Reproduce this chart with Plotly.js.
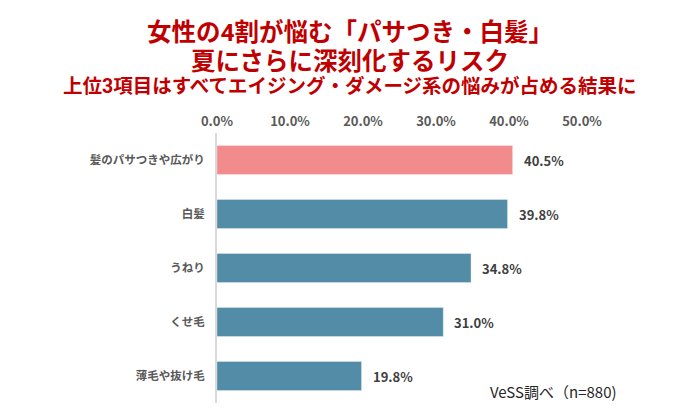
<!DOCTYPE html>
<html><head><meta charset="utf-8">
<script src="https://cdn.plot.ly/plotly-3.0.1.min.js"></script>
<style>body{margin:0;background:#fff}#chart{width:700px;height:420px}</style>
</head><body><div id="chart"></div>
<script>
const categories = ['髪のパサつきや広がり','白髪','うねり','くせ毛','薄毛や抜け毛'];
const values = [40.5, 39.8, 34.8, 31.0, 19.8];
const barColors = ['#F28B8C','#538CA7','#538CA7','#538CA7','#538CA7'];
const tickValues = [0,10,20,30,40,50];
const tickLabels = ['0.0%','10.0%','20.0%','30.0%','40.0%','50.0%'];
const titleLines = ['女性の4割が悩む「パサつき・白髪」','夏にさらに深刻化するリスク','上位3項目はすべてエイジング・ダメージ系の悩みが占める結果に'];
const sourceNote = 'VeSS調べ（n=880)';

const FONT = '"Noto Sans CJK JP", "Noto Sans", sans-serif';
const TFONT = 'Roboto, "Noto Sans CJK JP", sans-serif';
const PW = 365;  // plot width px

const valueAnnotations = categories.map((c,i)=>({
  x: values[i], y: c, xref:'x', yref:'y', text: values[i].toFixed(1)+'%',
  showarrow:false, xanchor:'left', xshift:9,
  font:{family:FONT, size:13, color:'#404040', weight:'bold'}
}));

const titleAnn = [
  {text:titleLines[0], y:(133-32)/270+1, size:24.5},
  {text:titleLines[1], y:(133-61)/270+1, size:24.5},
  {text:titleLines[2], y:(133-86.5)/270+1, size:19.5}
].map(t=>({
  x:(350-217)/PW, xref:'paper', y:t.y, yref:'paper', text:t.text, showarrow:false,
  xanchor:'center', yanchor:'middle', align:'center', borderpad:0,
  font:{family:TFONT, size:t.size, color:'#C00000', weight:'bold'}
}));

const data = [{
  type:'bar', orientation:'h', x:values, y:categories,
  marker:{color:barColors, line:{color:'rgba(255,255,255,0.35)', width:1}},
  hoverinfo:'none', width:0.54
}];

const layout = {
  width:700, height:420,
  margin:{l:217, r:700-217-PW, t:133, b:17},
  paper_bgcolor:'#fff', plot_bgcolor:'#fff',
  showlegend:false,
  xaxis:{range:[0,50], side:'top', tickvals:tickValues, ticktext:tickLabels,
    showgrid:false, zeroline:false, showline:false, ticks:'',
    ticklabelstandoff:3,
    tickfont:{family:FONT, size:13, color:'#595959', weight:'bold'}, fixedrange:true},
  yaxis:{autorange:'reversed', showgrid:false, zeroline:false, showline:true,
    linecolor:'#D9D9D9', linewidth:2, ticks:'', ticklabelstandoff:8,
    tickfont:{family:FONT, size:11.5, color:'#595959', weight:'bold'}, fixedrange:true},
  annotations: titleAnn.concat(valueAnnotations).concat([{
    x:(488-217)/PW, xref:'paper', y:(403-391)/270, yref:'paper', text:sourceNote,
    showarrow:false, xanchor:'left', yanchor:'middle',
    font:{family:FONT, size:15, color:'#262626'}
  }])
};

Plotly.newPlot('chart', data, layout, {displayModeBar:false, staticPlot:true});
</script></body></html>
